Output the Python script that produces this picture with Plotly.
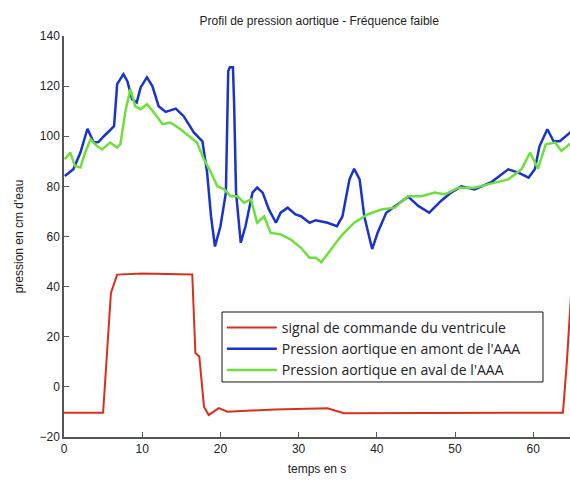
import plotly.graph_objects as go

# signal de commande du ventricule
t_cmd = [0, 5.0, 6.0, 6.8, 10, 16.4, 16.8, 17.3, 17.9, 18.5, 19.8, 20.9, 27, 33.7, 35.8, 42.3, 50, 63.8, 64.3, 64.9]
p_cmd = [-10.3, -10.3, 37.5, 44.8, 45.2, 44.8, 13.5, 12.1, -7.9, -11.2, -8.5, -9.9, -9.0, -8.5, -10.5, -10.5, -10.2, -10.3, 10, 40]

# pression en amont de l'AAA
t_amont = [0.1, 1.2, 2.1, 3.0, 3.8, 4.4, 5.1, 5.9, 6.4, 6.8, 7.6, 8.1, 8.7, 9.3, 9.8, 10.6, 11.3, 12.1, 13.0,
           14.3, 15.3, 16.6, 17.7, 18.3, 18.8, 19.3, 20.0, 20.7, 21.0, 21.2, 21.6, 21.75, 22.0, 22.6, 23.2,
           24.1, 24.7, 25.4, 26.2, 27.1, 27.7, 28.6, 29.6, 30.3, 31.4, 32.2, 33.7, 34.9, 35.6, 36.5, 37.1,
           37.8, 38.4, 39.4, 40.1, 41.2, 42.7, 44.0, 45.3, 46.7, 48.2, 49.5, 50.8, 52.5, 54.7, 56.8, 58.1,
           59.4, 60.2, 60.8, 61.8, 62.6, 63.4, 64.9]
p_amont = [84.1, 86.8, 93.5, 103, 97.5, 97.7, 100, 102.5, 104, 120.8, 124.8, 122, 114.8, 113.5, 119.5, 123.5,
           120, 112, 109.7, 111, 108, 101.5, 98, 85.5, 68, 56, 64, 77.5, 126, 127.5, 127.5, 113.5, 77.5, 57.5,
           64, 77.5, 79.5, 77.5, 70.8, 65.5, 69.5, 71.5, 68.8, 68.1, 65.5, 66.5, 65.5, 64.1, 68, 82.8, 87,
           82.8, 68, 55, 61.5, 69.5, 72.8, 75.9, 72.2, 69.5, 74.2, 77.5, 80, 78.8, 81.8, 86.8, 85.5,
           83.5, 86.8, 96, 102.8, 98, 98, 102]

# pression en aval de l'AAA
t_aval = [0.1, 0.8, 1.4, 2.1, 2.7, 3.4, 4.2, 4.9, 5.9, 6.8, 7.2, 7.9, 8.5, 9.1, 9.8, 10.6, 11.5, 12.6, 13.6,
          14.9, 16.2, 17.0, 17.9, 18.8, 19.6, 20.5, 21.3, 22.2, 23.0, 23.9, 24.7, 25.6, 26.4, 27.7, 29.0,
          30.3, 31.4, 32.2, 32.9, 34.1, 35.4, 37.1, 38.8, 40.6, 42.3, 44.0, 45.7, 47.4, 48.7, 50.4, 52.5,
          54.2, 56.8, 58.5, 59.6, 60.6, 61.6, 62.8, 63.6, 64.9]
p_aval = [90.8, 93.5, 88.1, 87.5, 93.5, 98.8, 96.1, 94.8, 97.5, 95.5, 96.8, 110.8, 118.8, 112, 110.8, 112.8,
          109.5, 104.8, 105.5, 102.8, 99.5, 97.5, 90.8, 85.5, 80, 78.8, 76.1, 76.1, 73.5, 74.8, 65.5, 68,
          61.5, 60.8, 58.8, 55.5, 51.5, 51.5, 49.7, 54.8, 60.1, 65.5, 68.8, 70.8, 71.5, 76.1, 76.1, 77.5,
          76.8, 79.5, 79.5, 80.8, 82.8, 86.8, 93.5, 87.1, 96.8, 97.5, 94.1, 97.5]

x_ticks = [0, 10, 20, 30, 40, 50, 60]
y_ticks = [-20, 0, 20, 40, 60, 80, 100, 120, 140]

fig = go.Figure()
fig.add_trace(go.Scatter(x=t_cmd, y=p_cmd, mode="lines", name="signal de commande du ventricule",
                         line=dict(color="#d9301e", width=2)))
fig.add_trace(go.Scatter(x=t_amont, y=p_amont, mode="lines", name="Pression aortique en amont de l'AAA",
                         line=dict(color="#1a33cc", width=2.5)))
fig.add_trace(go.Scatter(x=t_aval, y=p_aval, mode="lines", name="Pression aortique en aval de l'AAA",
                         line=dict(color="#6ee03c", width=2.5)))

axis_common = dict(
    showgrid=False, zeroline=False, showline=True, linecolor="#555555", linewidth=1.5,
    ticks="inside", ticklen=5, tickcolor="#555555", tickfont=dict(size=12, color="#222222"),
    automargin=False,
)

# legend frame drawn as a shape so it can be wider than the text
fig.add_shape(type="rect", xref="paper", yref="paper", x0=0.3123, x1=0.9466, y0=0.1372, y1=0.3117,
              line=dict(color="#111111", width=1), fillcolor="white", layer="above")

fig.update_layout(
    width=570, height=482,
    margin=dict(l=64, r=0, t=36, b=45),
    paper_bgcolor="white", plot_bgcolor="white",
    font=dict(family="Liberation Sans, Arial, sans-serif", color="#222222"),
    title=dict(text="Profil de pression aortique - Fréquence faible", x=0.56, y=0.965,
               xanchor="center", font=dict(size=12)),
    xaxis=dict(range=[0, 64.7], tickvals=x_ticks, title=dict(text="temps en s", standoff=9, font=dict(size=12)),
               **axis_common),
    yaxis=dict(range=[-20, 140], tickvals=y_ticks, title=dict(text="pression en cm d'eau", standoff=13, font=dict(size=12)),
               **axis_common),
    showlegend=True,
    legend=dict(x=0.312, y=0.312, xanchor="left", yanchor="top", bgcolor="rgba(0,0,0,0)",
                borderwidth=0, font=dict(size=14, family="Open Sans, sans-serif"),
                itemwidth=50, tracegroupgap=0),
)

# drop the default page margin so the figure sits flush in the window
fig.write_html("out.html", config={"displayModeBar": False},
               post_script="document.body.style.margin='0';")
